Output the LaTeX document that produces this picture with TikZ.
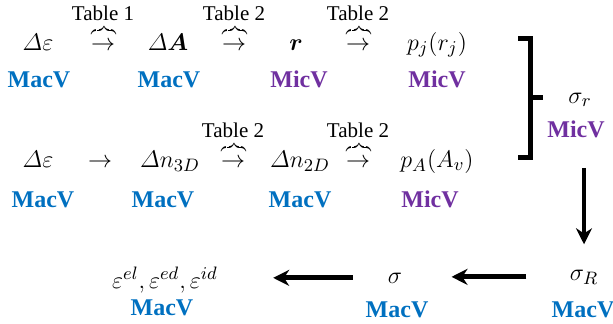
\documentclass[tikz,border=0pt]{standalone}
\usepackage{amsmath,amssymb}
\usepackage{graphicx}
\usepackage{fontspec}
\setmainfont{Liberation Serif}
\newfontfamily\labfont{Liberation Serif Bold}
\usetikzlibrary{arrows.meta,positioning}
\definecolor{macblue}{RGB}{0,112,192}
\definecolor{micpurple}{RGB}{112,48,160}
\newcommand{\bracearrow}{\rlap{\makebox[1em]{\raisebox{1.25ex}{\scalebox{0.42}[0.6]{$\overbrace{\hspace{2.2em}}$}}}}$\rightarrow$}

\begin{document}
\begin{tikzpicture}[x=0.5pt, y=-0.5pt,
    var/.style={anchor=base, inner sep=2pt, font=\fontsize{13}{15}\selectfont},
    brarrow/.style={var, inner sep=0pt},
    tab/.style={above=2.5pt of #1, inner sep=0pt, font=\fontsize{10.5}{12}\selectfont},
    mac/.style={anchor=base, inner sep=1pt, text=macblue, font=\fontsize{12}{14}\labfont},
    mic/.style={anchor=base, inner sep=1pt, text=micpurple, font=\fontsize{12}{14}\labfont},
    bigarrow/.style={-{Stealth[length=8pt,width=8pt]}, line width=2.4pt}]
    \useasboundingbox (0,0) rectangle (613,323);

    % first row
    \node (de1) [var] at (38,50) {$\varDelta\varepsilon$};
    \node (de1v) [mac] at (39,87) {MacV};
    \node (tr1) [brarrow] at (103,50) {\bracearrow};
    \node (tr1t) [tab=tr1] {Table 1};
    \node (dA) [var] at (168,50) {$\varDelta\boldsymbol{A}$};
    \node (dAv) [mac] at (169,87) {MacV};
    \node (tr2) [brarrow] at (234,50) {\bracearrow};
    \node (tr2t) [tab=tr2] {Table 2};
    \node (r) [var] at (296,50) {$\boldsymbol{r}$};
    \node (rv) [mic] at (299,87) {MicV};
    \node (tr3) [brarrow] at (358,50) {\bracearrow};
    \node (tr3t) [tab=tr3] {Table 2};
    \node (pj) [var] at (437,50) {$p_j(r_j)$};
    \node (pjv) [mic] at (437,87) {MicV};

    % second row
    \node (de2) [var] at (38,167) {$\varDelta\varepsilon$};
    \node (de2v) [mac] at (43,207) {MacV};
    \node (ar) [var] at (100,167) {$\rightarrow$};
    \node (dn3) [var] at (170,167) {$\varDelta n_{3D}$};
    \node (dn3v) [mac] at (163,207) {MacV};
    \node (tr4) [brarrow] at (233,167) {\bracearrow};
    \node (tr4t) [tab=tr4] {Table 2};
    \node (dn2) [var] at (300,167) {$\varDelta n_{2D}$};
    \node (dn2v) [mac] at (300,207) {MacV};
    \node (tr5) [brarrow] at (358,167) {\bracearrow};
    \node (tr5t) [tab=tr5] {Table 2};
    \node (pA) [var] at (437,167) {$p_A(A_v)$};
    \node (pAv) [mic] at (430,207) {MicV};

    % bracket and sigma_r
    \draw[line width=2.5pt] (518,38) -- (530,38) -- (530,157) -- (518,157)
        (530,97) -- (543,97);
    \node (sigr) [var] at (580,103) {$\sigma_r$};
    \node (micr) [mic] at (576,137) {MicV};

    % last row
    \node (sigR) [var] at (584,280) {$\sigma_R$};
    \node (sigRv) [mac] at (583,317) {MacV};
    \node (sig) [var] at (395,283) {$\sigma$};
    \node (sigv) [mac] at (397,317) {MacV};
    \node (eps) [var] at (165,288) {$\varepsilon^{el},\varepsilon^{ed},\varepsilon^{id}$};
    \node (epsv) [mac] at (162,315) {MacV};

    \draw[bigarrow, shorten <=14pt, shorten >=10.5pt] (micr.south -| sigR.north) -- (sigR.north);
    \draw[bigarrow, shorten <=19.5pt, shorten >=22.5pt] (sigR.west) -- (sigR.west -| sig.east);
    \draw[bigarrow, shorten <=15.5pt, shorten >=25.5pt] (sig.west) -- (sig.west -| eps.east);
\end{tikzpicture}
\end{document}
